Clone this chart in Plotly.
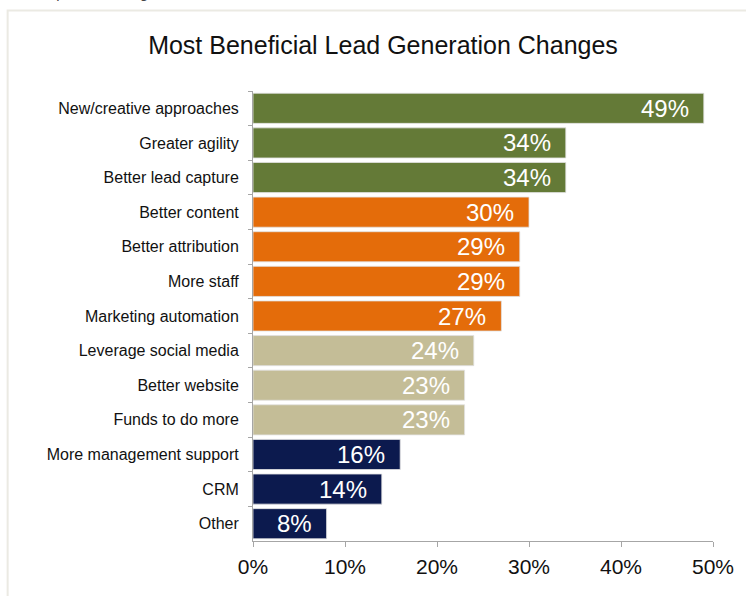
import plotly.graph_objects as go

# data
categories = ["New/creative approaches", "Greater agility", "Better lead capture",
              "Better content", "Better attribution", "More staff",
              "Marketing automation", "Leverage social media", "Better website",
              "Funds to do more", "More management support", "CRM", "Other"]
values = [49, 34, 34, 30, 29, 29, 27, 24, 23, 23, 16, 14, 8]
groups = ["green"] * 3 + ["orange"] * 4 + ["tan"] * 3 + ["navy"] * 3
x_ticks = [0, 10, 20, 30, 40, 50]

palette = {"green": "#647a37", "orange": "#e46c0a", "tan": "#c4bd97", "navy": "#0c1a4e"}
FONT = "Liberation Sans, Arial, sans-serif"

fig = go.Figure()
fig.add_trace(go.Bar(
    x=values, y=categories, orientation="h",
    marker=dict(color=[palette[g] for g in groups],
                line=dict(color="rgba(225,225,225,0.8)", width=1)),
    hoverinfo="x+y",
))

# value labels inside the bar ends
for c, v in zip(categories, values):
    fig.add_annotation(x=v, y=c, xref="x", yref="y", text=f"{v}%",
                       showarrow=False, xanchor="right", xshift=-13, yshift=0,
                       font=dict(family=FONT, size=24, color="white"))

# cut-off line of text above the frame (only its lower edge shows)
fig.add_annotation(text="would produce the greatest benefit.", xref="paper", yref="paper",
                   x=(8 - 253) / 464, y=(541 - 3) / 450, xanchor="left", yanchor="bottom",
                   showarrow=False, font=dict(family=FONT, size=15, color="#444"))

# light frame around the chart
fig.add_shape(type="rect", xref="paper", yref="paper",
              x0=(5.5 - 253) / 464, x1=(760 - 253) / 464,
              y0=(541 - 610) / 450, y1=(541 - 10.5) / 450,
              line=dict(color="#ebeae3", width=2), fillcolor="rgba(0,0,0,0)", layer="below")

fig.update_layout(
    width=746, height=596,
    margin=dict(l=253, r=29, t=91, b=55),
    paper_bgcolor="white", plot_bgcolor="white",
    bargap=0.13, showlegend=False,
    font=dict(family=FONT, color="#111"),
    title=dict(text="Most Beneficial Lead Generation Changes", xref="container", yref="container",
               x=383 / 746, y=1 - 45 / 596, xanchor="center", yanchor="middle",
               font=dict(family=FONT, size=25, color="#111")),
)
fig.update_xaxes(range=[0, 50], tickvals=x_ticks, ticktext=[f"{t}%" for t in x_ticks],
                 showgrid=False, zeroline=False, showline=True, linecolor="#a6a6a6", linewidth=1,
                 ticks="outside", ticklen=5, tickcolor="#a6a6a6", tickfont=dict(size=21, color="#111"),
                 ticklabelstandoff=2, fixedrange=True)
fig.update_yaxes(autorange="reversed", showgrid=False, showline=True, linecolor="#a6a6a6",
                 linewidth=1, ticks="outside", ticklen=4, tickcolor="#a6a6a6", tickson="boundaries",
                 tickfont=dict(size=16, color="#111"), ticklabelstandoff=10, fixedrange=True)

# drop the default page margin so the figure sits at the window's top-left corner
fig.write_html("out.html", config={"displayModeBar": False},
               post_script="document.body.style.margin='0';")
